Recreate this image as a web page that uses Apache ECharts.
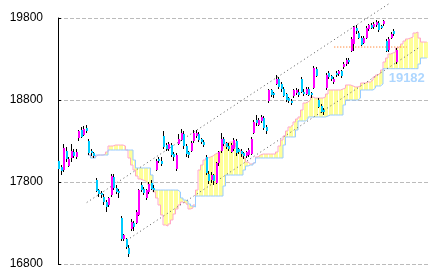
<!DOCTYPE html>
<html><head><meta charset="utf-8">
<script src="https://cdn.jsdelivr.net/npm/echarts@6/dist/echarts.min.js"></script>
<style>html,body{margin:0;padding:0;background:#fff}#c{width:432px;height:278px}</style>
</head><body><div id="c"></div>
<script>
// OHLC candles: [open, close, low, high]
const candles = [
[18060,17960,17900,18100],[17980,17930,17880,18010],[17940,18210,17920,18260],[18180,18080,18040,18230],
[18000,18080,17980,18110],[18100,18180,18050,18260],[18170,18120,18090,18200],[18110,18170,18080,18200],
[18330,18420,18300,18440],[18440,18360,18340,18470],[18380,18450,18360,18480],[18460,18420,18400,18500],
[18300,18150,18130,18320],[18180,18160,18120,18200],[18150,18110,18090,18170],[17830,17700,17680,17850],
[17700,17650,17620,17720],[17660,17630,17600,17690],[17620,17560,17520,17650],[17560,17500,17440,17580],
[17520,17600,17490,17620],[17640,17870,17620,17900],[17860,17720,17700,17900],[17730,17680,17650,17760],
[17690,17660,17600,17710],[17360,17100,17080,17380],[17100,17150,17080,17170],[17100,17000,16980,17120],
[17000,16930,16880,17030],[17230,17310,17200,17350],[17300,17250,17200,17330],[17310,17440,17290,17460],
[17400,17700,17380,17720],[17760,17700,17680,17800],[17710,17660,17640,17740],[17600,17700,17580,17720],
[17680,17780,17650,17800],[17790,17720,17700,17820],[17730,17700,17680,17760],[17950,18060,17930,18080],
[18080,18050,18030,18110],[18060,18020,18000,18100],[18360,18230,18200,18420],[18250,18200,18180,18280],
[18200,18260,18180,18290],[18250,18130,18100,18270],[18140,18100,18060,18160],[17960,18130,17940,18150],
[18270,18330,18250,18380],[18320,18400,18300,18450],[18380,18230,18200,18420],[18240,18140,18110,18260],
[18160,18120,18090,18180],[18180,18280,18160,18300],[18300,18400,18280,18440],[18360,18400,18340,18430],
[18380,18310,18290,18410],[18320,18280,18260,18340],[18290,18250,18230,18310],[18100,17900,17880,18130],
[17900,17820,17780,17930],[17820,17880,17790,17920],[17880,17810,17760,17900],[17790,18030,17780,18050],
[18020,18160,18000,18180],[18180,18330,18150,18400],[18320,18260,18240,18350],[18270,18220,18200,18290],
[18240,18200,18180,18270],[18170,18250,18150,18280],[18200,18310,18180,18340],[18300,18150,18120,18320],
[18200,18160,18140,18220],[18180,18140,18100,18200],[18150,18110,18080,18170],[18110,18160,18090,18180],
[18130,18190,18110,18210],[18150,18330,18130,18350],[18400,18530,18380,18560],[18560,18520,18480,18620],
[18500,18560,18480,18580],[18540,18590,18520,18620],[18580,18460,18440,18600],[18470,18420,18390,18490],
[18780,18920,18760,18940],[18920,18860,18840,18940],[18880,18860,18820,18900],[19000,19060,18980,19100],
[19060,18960,18940,19080],[18990,18930,18900,19020],[18940,18860,18840,18960],[18870,18800,18770,18890],
[18820,18780,18760,18840],[18790,18760,18740,18810],[18850,18920,18830,18940],[18880,18920,18860,18950],
[18900,18860,18840,18930],[19060,18900,18880,19080],[18900,18870,18850,18930],[18880,18940,18860,18960],
[18940,18870,18850,18960],[18880,18850,18830,18900],[18950,19190,18930,19220],[19180,19100,19080,19200],
[18800,18720,18700,18820],[18730,18660,18640,18750],[18680,18650,18620,18700],[18950,19110,18920,19130],
[19130,19080,19060,19150],[19090,19050,19030,19110],[19020,19060,19000,19080],[19130,19100,19080,19150],
[19110,19150,19090,19170],[19150,19090,19070,19170],[19200,19240,19180,19260],[19240,19290,19220,19310],
[19290,19260,19240,19310],[19400,19550,19380,19570],[19480,19690,19400,19700],[19680,19640,19610,19720],
[19620,19560,19540,19640],[19560,19480,19460,19580],[19500,19560,19480,19580],[19560,19680,19540,19700],
[19660,19710,19640,19730],[19720,19680,19660,19740],[19690,19730,19670,19750],[19710,19750,19690,19770],
[19740,19650,19630,19760],[19700,19680,19660,19720],[19720,19760,19700,19780],[19520,19400,19380,19540],
[19410,19550,19390,19570],[19560,19610,19540,19630],[19640,19600,19580,19660],[19260,19410,19240,19430]
];
// Leading span (pink) and flat span (blue), index 0..147, null = no value
const spanA = [null,null,null,null,null,null,null,null,null,null,null,null,
18129,18105,18105,18129,18129,18129,18141,18166,18239,18239,18251,18251,18251,18251,18239,18190,
18093,18007,17946,17873,17837,17824,17812,17788,17763,17751,17678,17605,17520,17398,17276,17263,
17288,17337,17410,17471,17520,17556,17544,17520,17471,17483,17520,17702,17946,18007,18068,18093,
18105,18117,18141,18154,18178,18202,18239,18276,18288,18288,18276,18227,18190,18154,18093,18044,
18020,18020,18044,18105,18129,18141,18141,18141,18141,18141,18141,18166,18239,18312,18361,18422,
18471,18495,18532,18568,18593,18678,18763,18776,18800,18837,18824,18824,18824,18824,18837,18873,
18922,18922,18922,18922,18922,18934,18946,18983,18983,18971,18959,18959,18971,19007,19007,19020,
19020,19044,19080,19105,19129,19166,19263,19312,19361,19373,19385,19434,19458,19483,19519,19544,
19556,19568,19617,19629,19556,19507,19507,19507];
const spanB = [null,null,null,null,null,null,null,null,null,null,null,null,
18129,18093,18093,18129,18129,18129,18129,18129,18190,18190,18190,18190,18190,18190,18190,18190,
18190,18190,18068,17971,17971,17971,17971,17971,17971,17885,17702,17702,17702,17702,17702,17702,
17702,17702,17702,17702,17678,17605,17580,17568,17532,17507,17495,17629,17629,17629,17629,17629,
17629,17629,17629,17629,17629,17629,17751,17885,17885,17885,17885,17885,17885,17885,17946,17995,
18007,18007,18032,18093,18093,18093,18093,18093,18093,18093,18093,18093,18093,18093,18251,18349,
18349,18349,18349,18434,18544,18544,18544,18568,18593,18593,18593,18593,18593,18593,18593,18605,
18617,18617,18617,18617,18617,18617,18739,18800,18800,18800,18800,18800,18824,18922,18922,18922,
18922,18922,18946,18971,18971,18995,19182,19182,19182,19182,19182,19182,19182,19182,19182,19182,
19182,19182,19182,19182,19239,19312,19312,19312];
const yTicks = [16800, 17800, 18800, 19800];
const trendUpper = [[11, 17550], [132, 19977]];
const trendLower = [[27, 17090], [144, 19441]];
const levelLine = [[110, 19446], [139, 19446]];
const cloudLabel = [[139, 19182]];

const N = spanA.length;
const cats = Array.from({length: N}, (_, i) => i);
const cloudData = cats.map(i => [i, spanA[i], spanB[i]]).filter(d => d[1] != null && d[2] != null);
const candleData = candles.map((d, i) => [i, d[0], d[1], d[2], d[3]]);

const chart = echarts.init(document.getElementById('c'), null, {renderer: 'canvas'});
chart.setOption({
  animation: false,
  backgroundColor: '#ffffff',
  grid: {left: 58, right: 4, top: 18, bottom: 14},
  xAxis: {type: 'category', data: cats, show: false, boundaryGap: true},
  yAxis: {
    type: 'value', min: yTicks[0], max: yTicks[yTicks.length - 1], interval: 1000,
    axisLine: {show: true, lineStyle: {color: '#000', width: 1}},
    axisTick: {show: true, inside: true, length: 3, lineStyle: {color: '#000'}},
    axisLabel: {color: '#000', fontSize: 12, margin: 15, formatter: v => String(v),
      fontFamily: "'Liberation Sans Narrow', 'Liberation Sans', sans-serif"},
    splitLine: {show: true, lineStyle: {color: '#bbbbbb', type: [4, 2], width: 1}}
  },
  series: [
    {
      type: 'custom', name: 'cloud', z: 1, clip: true,
      data: cloudData,
      encode: {x: 0, y: [1, 2]},
      renderItem: function (params, api) {
        const i = api.value(0);
        const pa = api.coord([i, api.value(1)]);
        const pb = api.coord([i, api.value(2)]);
        const w = api.size([1, 0])[0];
        const l = Math.round(pa[0] - w / 2), r = Math.round(pa[0] + w / 2);
        const top = Math.min(pa[1], pb[1]), h = Math.abs(pa[1] - pb[1]);
        const children = [{type: 'rect', shape: {x: l, y: top, width: r - l, height: h},
          style: {fill: '#ffff99'}}];
        if (i % 2 === 0) children.push({type: 'rect', shape: {x: l, y: top, width: 1, height: h},
          style: {fill: '#ffffff'}});
        return {type: 'group', children: children};
      }
    },
    {type: 'line', name: 'spanA', data: spanA, step: 'middle', symbol: 'none', z: 2,
      lineStyle: {color: '#ffa8c8', width: 1}},
    {type: 'line', name: 'spanB', data: spanB, step: 'middle', symbol: 'none', z: 2,
      lineStyle: {color: '#99ccff', width: 1}},
    {type: 'line', name: 'trendU', data: trendUpper, symbol: 'none', z: 3, clip: false,
      lineStyle: {color: '#555555', width: 1, type: [1, 3]}},
    {type: 'line', name: 'trendL', data: trendLower, symbol: 'none', z: 3, clip: false,
      lineStyle: {color: '#555555', width: 1, type: [1, 3]}},
    {
      type: 'custom', name: 'candles', z: 5, clip: false,
      data: candleData,
      encode: {x: 0, y: [1, 2, 3, 4]},
      renderItem: function (params, api) {
        const i = api.value(0);
        const o = api.coord([i, api.value(1)]);
        const c = api.coord([i, api.value(2)]);
        const lo = api.coord([i, api.value(3)]);
        const hi = api.coord([i, api.value(4)]);
        const x = Math.round(o[0]);
        const up = api.value(2) >= api.value(1);
        const top = Math.round(Math.min(o[1], c[1]));
        const h = Math.max(1, Math.round(Math.abs(o[1] - c[1])));
        return {type: 'group', children: [
          {type: 'rect', shape: {x: x - 1, y: Math.round(hi[1]), width: 1, height: Math.round(lo[1]) - Math.round(hi[1])},
            style: {fill: '#000000'}},
          {type: 'rect', shape: {x: x - 1, y: top, width: 2, height: h},
            style: {fill: up ? '#ff00ff' : '#00ccff'}}
        ]};
      }
    },
    {type: 'line', name: 'level', data: levelLine, symbol: 'none', z: 6,
      lineStyle: {color: '#ff6600', width: 1, type: [1, 2]}},
    {type: 'scatter', name: 'lbl', data: cloudLabel, symbolSize: 0, z: 7,
      label: {show: true, position: 'bottom', distance: 3, formatter: p => String(p.value[1]),
        color: '#99ccff', fontSize: 13, fontWeight: 'bold', fontFamily: "'Liberation Sans', Arial, sans-serif"}}
  ]
});
</script></body></html>
